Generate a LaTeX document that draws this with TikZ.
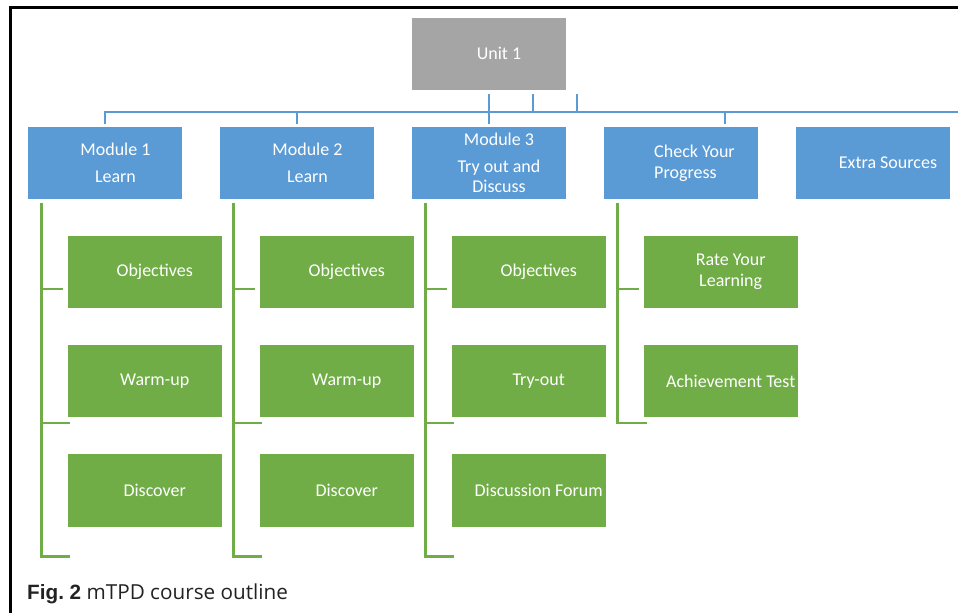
\documentclass[tikz,border=0pt]{standalone}
\usepackage{fontspec}
\setmainfont{Carlito}
\newfontfamily\capfont{Open Sans}
\newfontfamily\capbold{Liberation Sans}
\usepackage{xcolor}
\usetikzlibrary{positioning}
\definecolor{unitgray}{HTML}{A5A5A5}
\definecolor{modblue}{HTML}{5B9BD5}
\definecolor{itemgreen}{HTML}{70AD47}
\definecolor{captext}{HTML}{222222}

\begin{document}
\begin{tikzpicture}[x=1pt,y=-1pt,
    box/.style={draw=white, line width=0.7pt, minimum width=155.3pt, minimum height=73.3pt, inner sep=0pt},
    unitbox/.style={box, fill=unitgray},
    modbox/.style={box, fill=modblue},
    itembox/.style={box, fill=itemgreen},
    lbl/.style={text=white, font=\fontsize{18}{21}\selectfont, align=center, inner sep=0pt, xshift=10pt},
    link/.style={draw=modblue, line width=2pt},
    branch/.style={draw=itemgreen, line width=2.5pt}]
  \useasboundingbox (0,0) rectangle (958,613);
  \draw[line width=2.6pt] (958,7.3) -- (10.5,7.3) -- (10.5,613);

  % top level and the five sections
  \node[unitbox, label={[lbl]center:Unit 1}] (unit) at (489,53.5) {};
  \node[modbox, label={[lbl, xshift=0.5pt]center:{Module 1\\[6pt]Learn}}] (m1) at (105,163) {};
  \node[modbox, label={[lbl, xshift=0.5pt]center:{Module 2\\[6pt]Learn}}] (m2) at (297,163) {};
  \node[modbox, label={[lbl]center:{Module 3\\[6pt]Try out and\\[-1.5pt]Discuss}}] (m3) at (489,163) {};
  \node[modbox, label={[lbl, align=left, xshift=3.5pt]center:{Check Your\\Progress}}] (m4) at (681,163) {};
  \node[modbox, label={[lbl, xshift=5pt]center:Extra Sources}] (m5) at (873,163) {};

  % connectors from the unit
  \coordinate (s1) at ([yshift=-3.3pt]unit.south);
  \coordinate (s2) at ([xshift=44pt,yshift=-3.3pt]unit.south);
  \coordinate (s3) at ([xshift=88pt,yshift=-3.3pt]unit.south);
  \coordinate (bus) at (0,112);
  \coordinate (busend) at (958,112);
  \draw[link] (s1) -- (s1 |- bus) -| ([yshift=2.5pt]m1.north);
  \draw[link] (s1 |- bus) -| ([yshift=2.5pt]m2.north);
  \draw[link] (s1) -- ([yshift=2.5pt]m3.north);
  \draw[link] (s1 |- bus) -| ([xshift=44pt,yshift=2.5pt]m4.north);
  \draw[link] (s2) -- (s2 |- bus);
  \draw[link] (s3) -- (s3 |- bus) -- (busend);

  % items of the three modules
  \foreach \col/\x/\ta/\tb/\tc in {1/144.7/Objectives/Warm-up/Discover,
      2/336.7/Objectives/Warm-up/Discover,
      3/528.7/Objectives/Try-out/Discussion Forum} {
    \node[itembox, label={[lbl]center:\ta}] (a\col) at (\x,272) {};
    \node[itembox, label={[lbl]center:\tb}] (b\col) at (\x,381) {};
    \node[itembox, label={[lbl]center:\tc}] (c\col) at (\x,490.3) {};
    \draw[branch] ([xshift=14.5pt,yshift=-3pt]m\col.south west) |- ([xshift=3pt,yshift=-29pt]c\col.south west);
    \draw[branch] ([xshift=-25.5pt,yshift=20pt]a\col.south west) -- ([xshift=-3.5pt,yshift=20pt]a\col.south west);
    \draw[branch] ([xshift=-25.5pt,yshift=-5pt]b\col.south west) -- ([xshift=3pt,yshift=-5pt]b\col.south west);
  }

  % items of the progress check
  \node[itembox, label={[lbl]center:{Rate Your\\Learning}}] (a4) at (720.7,272) {};
  \node[itembox, label={[lbl]center:Achievement Test}] (b4) at (720.7,381) {};
  \draw[branch] ([xshift=14.5pt,yshift=-3pt]m4.south west) |- ([xshift=4pt,yshift=-5pt]b4.south west);
  \draw[branch] ([xshift=-25.5pt,yshift=20pt]a4.south west) -- ([xshift=-3.5pt,yshift=20pt]a4.south west);

  \node[anchor=base west, inner sep=0pt, text=captext, font=\capfont\fontsize{20.7}{24}\selectfont] (caption) at (27,599)
    {{\capbold\bfseries Fig.\ 2} mTPD course outline};
\end{tikzpicture}
\end{document}
